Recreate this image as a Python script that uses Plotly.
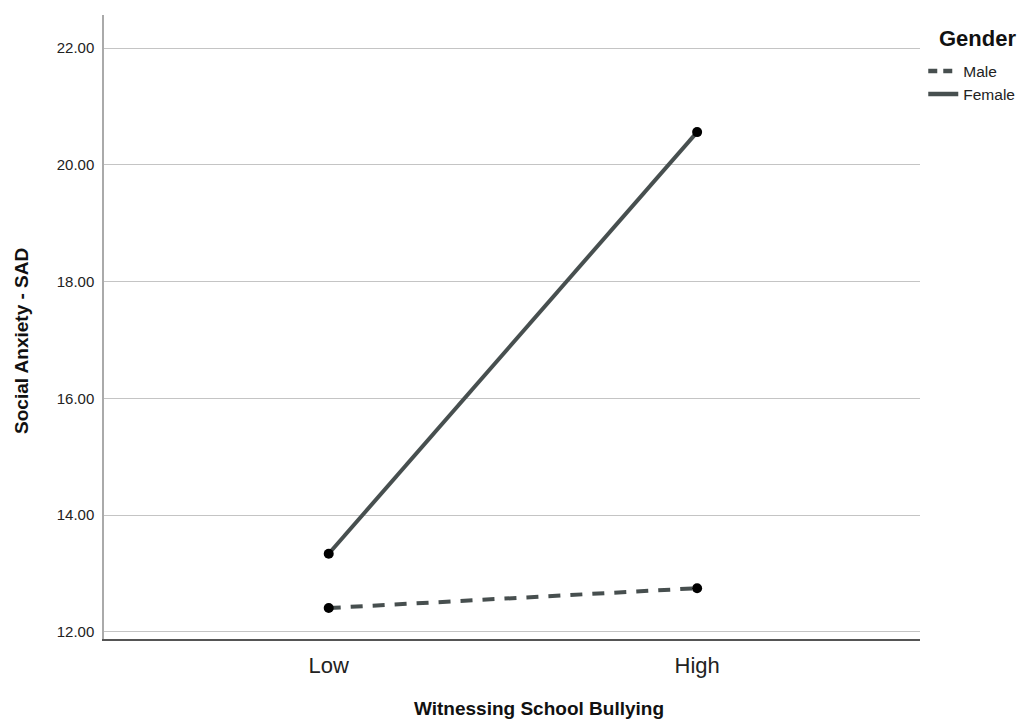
import plotly.graph_objects as go

categories = ["Low", "High"]
male = [12.41, 12.75]
female = [13.34, 20.56]
y_ticks = [12, 14, 16, 18, 20, 22]

LINE = "#474f4f"

fig = go.Figure()
fig.add_trace(go.Scatter(
    x=categories, y=male, name="Male", mode="lines+markers", showlegend=False,
    line=dict(color=LINE, width=4, dash="12px,10px"),
    marker=dict(color="black", size=10),
))
fig.add_trace(go.Scatter(
    x=categories, y=female, name="Female", mode="lines+markers", showlegend=False,
    line=dict(color=LINE, width=4),
    marker=dict(color="black", size=10),
))
# legend entries (lines only, as in the reference)
fig.add_trace(go.Scatter(
    x=[None], y=[None], name="Male", mode="lines",
    line=dict(color=LINE, width=4.5, dash="9px,6px"),
))
fig.add_trace(go.Scatter(
    x=[None], y=[None], name="Female", mode="lines",
    line=dict(color=LINE, width=4.5),
))

fig.update_layout(
    width=1021, height=712,
    margin=dict(l=96, r=109, t=7, b=81),
    paper_bgcolor="white", plot_bgcolor="white",
    font=dict(family="Liberation Sans, Arial, sans-serif", color="#222222"),
    showlegend=True,
    legend=dict(
        x=1.004, xanchor="left", y=0.937, yanchor="top",
        font=dict(size=15.5, color="#222222"),
        tracegroupgap=0, itemwidth=30,
        borderwidth=0,
    ),
    xaxis=dict(
        type="category",
        range=[-0.61, 1.605],
        tickfont=dict(size=22, color="#222222"),
        ticklabelstandoff=6,
        showgrid=False, zeroline=False,
        showline=True, linecolor="#555555", linewidth=1.5,
        ticks="",
    ),
    yaxis=dict(
        range=[11.88, 22.565],
        tickvals=y_ticks, tickformat=".2f",
        tickfont=dict(size=15, color="#222222"),
        ticklabelstandoff=5,
        showgrid=True, gridcolor="#c4c4c4", gridwidth=1.2,
        zeroline=False,
        showline=True, linecolor="#aaaaaa", linewidth=1.5,
        ticks="",
    ),
    annotations=[
        dict(text="<b>Witnessing School Bullying</b>", xref="paper", yref="paper",
             x=0.533, y=-0.1106, xanchor="center", yanchor="middle", showarrow=False,
             font=dict(size=19, color="#111111")),
        dict(text="<b>Social Anxiety - SAD</b>", xref="paper", yref="paper",
             x=-0.1005, y=0.4776, xanchor="center", yanchor="middle", showarrow=False,
             textangle=-90, font=dict(size=19, color="#111111")),
        dict(text="<b>Gender</b>", xref="paper", yref="paper",
             x=1.071, y=0.963, xanchor="center", yanchor="middle", showarrow=False,
             font=dict(size=22, color="#111111")),
    ],
)

fig.write_html("out.html")
